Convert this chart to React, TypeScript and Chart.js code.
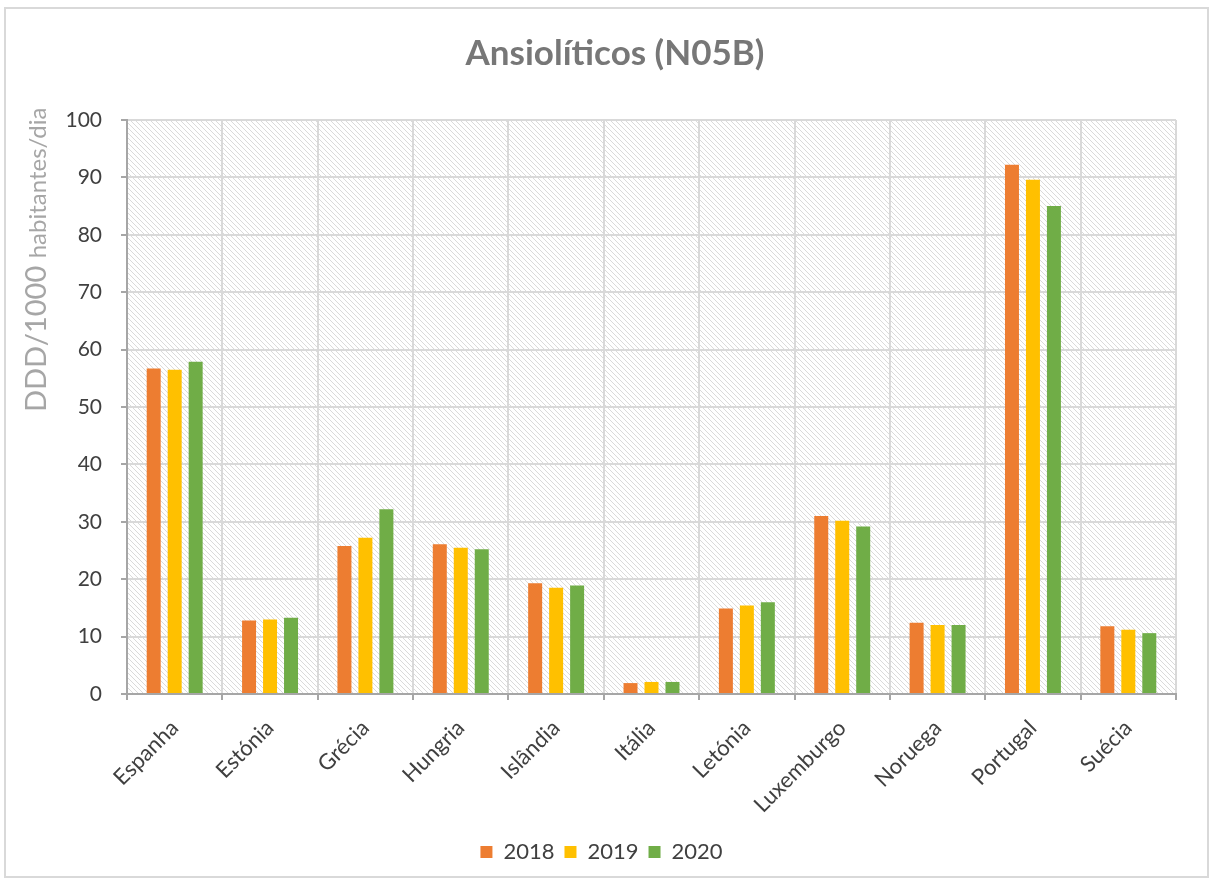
import React, { useEffect, useRef } from "react";
import { Chart, registerables } from "chart.js";

Chart.register(...registerables);

const categories = [
  "Espanha", "Estónia", "Grécia", "Hungria", "Islândia", "Itália",
  "Letónia", "Luxemburgo", "Noruega", "Portugal", "Suécia",
];
const values2018 = [56.7, 12.8, 25.8, 26.1, 19.3, 1.9, 14.9, 31.0, 12.4, 92.2, 11.8];
const values2019 = [56.5, 13.0, 27.2, 25.5, 18.5, 2.1, 15.4, 30.2, 12.0, 89.6, 11.2];
const values2020 = [57.9, 13.3, 32.2, 25.2, 18.9, 2.1, 16.0, 29.2, 12.0, 85.0, 10.6];
const seriesLabels = ["2018", "2019", "2020"];
const seriesColors = ["#ED7D31", "#FFC000", "#70AD47"];
const titleText = "Ansiolíticos (N05B)";
const yLabelMain = "DDD/1000 ";
const yLabelSub = "habitantes/dia";

const FONT = "Lato, 'Open Sans', sans-serif";

function makePattern(ctx: CanvasRenderingContext2D) {
  const n = 5;
  const c = document.createElement("canvas");
  c.width = n;
  c.height = n;
  const g = c.getContext("2d")!;
  g.fillStyle = "#ffffff";
  g.fillRect(0, 0, n, n);
  g.fillStyle = "#dadada";
  for (let i = 0; i < n; i++) g.fillRect(i, i, 1, 1);
  return ctx.createPattern(c, "repeat");
}

const decorPlugin = {
  id: "decor",
  afterLayout(chart: any) {
    if (chart.legend) {
      chart.legend.left -= 20;
      chart.legend.right -= 20;
    }
  },
  beforeDraw(chart: any) {
    const { ctx, chartArea, width, height } = chart;
    ctx.save();
    ctx.fillStyle = "#ffffff";
    ctx.fillRect(0, 0, width, height);
    const pat = makePattern(ctx);
    if (pat) {
      ctx.fillStyle = pat;
      ctx.fillRect(chartArea.left, chartArea.top, chartArea.right - chartArea.left, chartArea.bottom - chartArea.top);
    }
    ctx.strokeStyle = "#d9d9d9";
    ctx.lineWidth = 2;
    ctx.strokeRect(5, 8, 1203, 869);
    // title
    ctx.fillStyle = "#777777";
    ctx.font = `bold 35px ${FONT}`;
    ctx.textAlign = "center";
    ctx.textBaseline = "middle";
    ctx.fillText(titleText, 615, 54);
    // y label
    ctx.translate(46, 412);
    ctx.rotate(-Math.PI / 2);
    ctx.textAlign = "left";
    ctx.textBaseline = "alphabetic";
    ctx.fillStyle = "#a6a6a6";
    ctx.font = `29px ${FONT}`;
    ctx.fillText(yLabelMain, 0, 0);
    const w = ctx.measureText(yLabelMain).width;
    ctx.font = `24px ${FONT}`;
    ctx.fillText(yLabelSub, w, 0);
    ctx.restore();
  },
};

export default function App() {
  const ref = useRef<HTMLCanvasElement>(null);
  useEffect(() => {
    const datasets = [values2018, values2019, values2020].map((d, i) => ({
      label: seriesLabels[i],
      data: d,
      backgroundColor: seriesColors[i],
      borderWidth: 0,
      categoryPercentage: 0.66,
      barPercentage: 0.667,
    }));
    const chart = new Chart(ref.current!, {
      type: "bar",
      data: { labels: categories, datasets },
      plugins: [decorPlugin],
      options: {
        animation: false,
        responsive: false,
        layout: { padding: { top: 120, left: 67, right: 36, bottom: 10 } },
        plugins: {
          title: { display: false },
          tooltip: { enabled: false },
          legend: {
            position: "bottom",
            labels: {
              font: { family: FONT, size: 22 },
              color: "#404040",
              boxWidth: 12,
              boxHeight: 12,
              padding: 10,
            },
          },
        },
        scales: {
          x: {
            afterFit(scale: any) { scale.height = 137; },
            grid: {
              color: "#d9d9d9",
              lineWidth: 2,
              offset: true,
              drawTicks: true,
              tickLength: 6,
              tickColor: "#a6a6a6",
            },
            border: { display: true, color: "#a6a6a6", width: 2 },
            ticks: {
              font: { family: FONT, size: 22 },
              color: "#404040",
              minRotation: 45,
              maxRotation: 45,
              padding: 15,
              autoSkip: false,
            },
          },
          y: {
            min: 0,
            max: 100,
            afterFit(scale: any) { scale.width = 60; },
            grid: {
              color: "#d9d9d9",
              lineWidth: 2,
              drawTicks: true,
              tickLength: 6,
              tickColor: "#a6a6a6",
            },
            border: { display: true, color: "#a6a6a6", width: 2 },
            ticks: {
              stepSize: 10,
              font: { family: FONT, size: 21 },
              color: "#404040",
              padding: 19,
            },
          },
        },
      },
    } as any);
    return () => chart.destroy();
  }, []);
  return (
    <div style={{ position: "fixed", left: 0, top: 0, width: 1212, height: 883, background: "#fff" }}>
      <canvas ref={ref} width={1212} height={883} style={{ width: 1212, height: 883, display: "block" }} />
    </div>
  );
}
